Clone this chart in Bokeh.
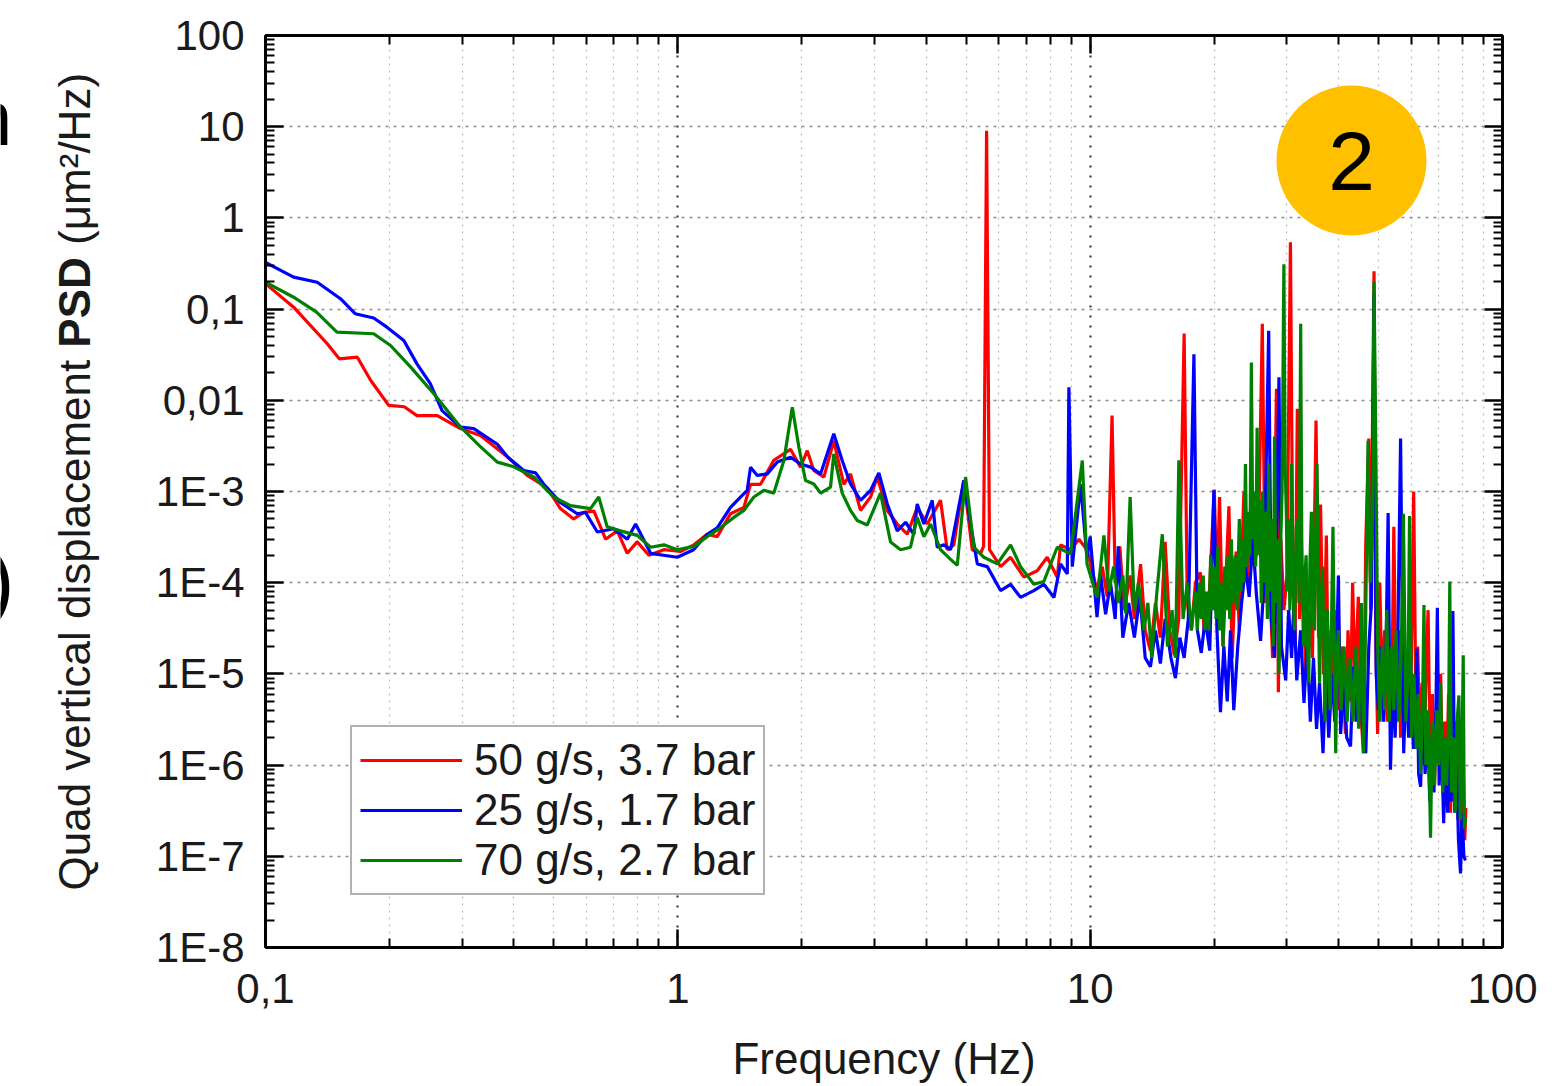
import math
from bokeh.plotting import figure
from bokeh.layouts import row
from bokeh.models import FixedTicker, CustomJSTickFormatter, LogAxis, Label
from bokeh.core.properties import value
from bokeh.embed import file_html
from bokeh.resources import INLINE

# ---------------- data ----------------
x_tick_values = [0.1, 1, 10, 100]
x_tick_labels = ["0,1", "1", "10", "100"]
y_tick_values = [1e-8, 1e-7, 1e-6, 1e-5, 1e-4, 1e-3, 1e-2, 1e-1, 1, 10, 100]
y_tick_labels = ["1E-8", "1E-7", "1E-6", "1E-5", "1E-4", "1E-3", "0,01", "0,1", "1", "10", "100"]

series_names = ["50 g/s, 3.7 bar", "25 g/s, 1.7 bar", "70 g/s, 2.7 bar"]
series_colors = ["#ff0000", "#0000ff", "#008000"]

red = [
    (0.100, 0.19), (0.117, 0.105), (0.141, 0.042), (0.151, 0.0285), (0.167, 0.0297), (0.180, 0.0165),
    (0.199, 0.0088), (0.217, 0.0085), (0.233, 0.0068), (0.261, 0.0068), (0.297, 0.0049), (0.332, 0.0041),
    (0.386, 0.0024), (0.431, 0.0015), (0.482, 0.0011), (0.519, 0.00065), (0.559, 0.0005), (0.592, 0.00059),
    (0.626, 0.00061), (0.668, 0.0003), (0.713, 0.00037), (0.754, 0.00021), (0.797, 0.00028), (0.851, 0.0002),
    (0.925, 0.00023), (1.015, 0.00022), (1.094, 0.00026),
    (1.178, 0.00034), (1.246, 0.00032), (1.342, 0.00057), (1.446, 0.00067), (1.501, 0.0012), (1.587, 0.0012),
    (1.709, 0.0022), (1.876, 0.0029), (1.984, 0.00185), (2.06, 0.0028), (2.137, 0.0017), (2.261, 0.00144),
    (2.389, 0.0036), (2.527, 0.0012), (2.623, 0.00156), (2.774, 0.00062), (2.934, 0.00087), (3.045, 0.00144),
    (3.221, 0.00062), (3.405, 0.00044), (3.601, 0.00034), (3.807, 0.00067), (4.027, 0.00044), (4.336, 0.0008),
    (4.501, 0.00023), (4.671, 0.00026), (4.938, 0.00132), (5.176, 0.00023), (5.424, 0.00021), (5.515, 0.00025),
    (5.608, 9.0), (5.70, 0.00023), (6.063, 0.00015), (6.411, 0.00019), (6.907, 0.000115), (7.441, 0.000135),
    (7.868, 0.00019), (8.32, 0.000115), (8.476, 0.00026), (8.963, 0.00023), (9.39, 0.0003), (9.824, 0.00023),
    (10.39, 0.000082),
    (10.7, 1.5e-4), (11.0, 7e-5), (11.3, 6.8e-3), (11.5, 1.0e-4), (11.8, 2.5e-4), (12.1, 5e-5), (12.5, 1.2e-4),
    (12.8, 4e-5), (13.25, 1.6e-4), (13.6, 3e-5), (14.0, 1.8e-5), (14.4, 6e-5), (14.8, 2.5e-5), (15.2, 2.8e-4),
    (15.6, 3e-5), (16.0, 1.6e-5), (16.4, 4e-5), (16.9, 0.054), (17.2, 6e-5), (17.6, 3e-5), (18.0, 1e-4),
    (18.5, 1.3e-4), (18.9, 3e-5), (19.4, 6e-5), (20.0, 1.05e-3), (20.3, 8e-5), (20.6, 8.7e-4), (21.0, 2e-5),
    (21.4, 1.5e-4), (21.7, 6.9e-4), (22.1, 1.5e-5), (22.6, 2.2e-4), (23.0, 3e-5), (23.6, 1e-3), (24.0, 1e-4),
    (24.6, 5e-4), (25.0, 1.5e-4), (25.6, 3e-4), (26.15, 0.069), (26.6, 6e-5), (27.1, 2e-4), (27.7, 1.5e-5),
    (28.3, 0.0134), (28.6, 6.3e-6), (29.0, 3e-4), (29.5, 5e-5), (30.0, 1.2e-4), (30.6, 0.54), (31.0, 1.5e-4),
    (31.4, 2e-5), (31.8, 8.1e-3), (32.2, 4e-5), (32.8, 1.5e-4), (33.3, 1e-5), (34.0, 6e-5), (34.6, 1.5e-5),
    (35.3, 6e-3), (35.8, 2.5e-5), (36.2, 7.2e-4), (36.8, 1e-5), (37.4, 3.3e-4), (37.9, 2.3e-6), (38.4, 3e-5),
    (39.0, 8e-6), (39.6, 5e-5), (40.2, 4e-6), (40.8, 2e-5), (41.6, 2.2e-6), (42.2, 3e-5), (42.8, 5e-6),
    (43.3, 1.0e-4), (43.9, 8e-6), (44.7, 7e-5), (45.3, 4e-6), (46.0, 1.35e-6), (46.6, 2.8e-4), (47.4, 3.8e-3),
    (47.9, 5e-5), (48.8, 0.26), (49.3, 2e-5), (49.8, 2.2e-6), (50.4, 1e-4), (51.0, 8e-6), (51.8, 3e-5),
    (52.5, 3e-6), (53.2, 1.5e-5), (53.8, 2.5e-6), (54.5, 4.1e-4), (55.2, 5e-6), (55.9, 3e-5), (56.6, 2e-6),
    (57.5, 2e-5), (58.3, 3e-6), (59.0, 1.2e-5), (59.8, 2.5e-6), (60.9, 1.0e-3), (61.6, 6e-6), (62.3, 2e-5),
    (63.0, 1.5e-6), (63.8, 8e-6), (64.5, 1e-6), (65.3, 1.2e-5), (66.0, 5e-5), (66.8, 1e-6), (67.6, 6e-6),
    (68.4, 6e-7), (69.2, 4e-6), (70.0, 1.2e-6), (70.8, 1e-5), (71.6, 5e-7), (72.4, 3e-6), (73.2, 8e-7),
    (74.0, 6e-6), (74.8, 3e-7), (75.6, 2e-6), (76.4, 4e-7), (77.2, 3e-6), (78.0, 2.5e-7), (78.8, 1.5e-6),
    (79.6, 1.5e-7), (80.4, 8e-7), (81.0, 1.5e-7), (81.5, 3.4e-7),
]

blue = [
    (0.100, 0.324), (0.117, 0.224), (0.1335, 0.197), (0.152, 0.13), (0.165, 0.089), (0.183, 0.08),
    (0.197, 0.0634), (0.2165, 0.0453), (0.233, 0.0251), (0.251, 0.0152), (0.268, 0.0077), (0.297, 0.0051),
    (0.320, 0.0049), (0.365, 0.0033), (0.386, 0.0024), (0.423, 0.0017), (0.452, 0.0016), (0.473, 0.0012),
    (0.519, 0.00076), (0.570, 0.00057), (0.597, 0.00059), (0.638, 0.00036), (0.699, 0.00039), (0.754, 0.0003),
    (0.790, 0.00044), (0.859, 0.00021), (0.997, 0.00019), (1.092, 0.00023),
    (1.178, 0.00034), (1.246, 0.0004), (1.342, 0.00067), (1.419, 0.00087), (1.473, 0.00103), (1.501, 0.00185),
    (1.558, 0.0015), (1.648, 0.00156), (1.742, 0.0021), (1.876, 0.00238), (1.984, 0.002), (2.099, 0.00185),
    (2.219, 0.00156), (2.389, 0.0043), (2.504, 0.00219), (2.623, 0.00121), (2.774, 0.0008), (2.934, 0.00103),
    (3.073, 0.0016), (3.221, 0.00073), (3.405, 0.00037), (3.567, 0.00046), (3.737, 0.00034), (3.807, 0.00073),
    (3.951, 0.00044), (4.14, 0.0008), (4.257, 0.000245), (4.418, 0.00026), (4.586, 0.00023), (4.938, 0.00132),
    (5.128, 0.00044), (5.324, 0.000161), (5.63, 0.00015), (6.063, 0.000082), (6.411, 0.000096), (6.78, 0.000069),
    (7.30, 0.000082), (7.72, 0.000096), (8.17, 0.000069), (8.476, 0.000161), (8.80, 0.000125), (8.88, 0.0139),
    (9.05, 0.00015), (9.48, 0.0012), (9.82, 0.00019), (10.0, 0.00032), (10.39, 0.000042),
    (10.6, 1.2e-4), (10.9, 4.5e-5), (11.2, 1e-4), (11.5, 4e-5), (11.7, 2.5e-4), (12.0, 2.5e-5), (12.4, 6e-5),
    (12.8, 2.5e-5), (13.2, 7e-5), (13.6, 1.5e-5), (14.0, 1.2e-5), (14.4, 3e-5), (14.8, 1.3e-5), (15.2, 4e-5),
    (15.7, 1.5e-5), (16.1, 9e-6), (16.5, 2.5e-5), (16.9, 1.5e-5), (17.3, 4e-5), (17.85, 0.032), (18.2, 3e-5),
    (18.6, 1.7e-5), (19.0, 4e-5), (19.5, 1.8e-5), (19.95, 1.03e-3), (20.3, 3e-5), (20.7, 3.8e-6), (21.1, 2e-5),
    (21.5, 5e-6), (21.9, 3e-5), (22.3, 4e-6), (22.8, 2e-5), (23.3, 6e-5), (23.8, 1.5e-4), (24.3, 7e-5),
    (24.8, 3e-4), (25.3, 7.5e-5), (25.9, 2.3e-5), (26.4, 1e-4), (27.1, 0.058), (27.5, 4e-5), (28.0, 1.5e-5),
    (28.7, 0.0179), (29.1, 2e-5), (29.8, 8.5e-6), (30.3, 5e-5), (30.8, 1.5e-5), (31.2, 6e-5), (31.7, 8.5e-6),
    (32.4, 3e-5), (33.0, 4.8e-6), (33.6, 2e-5), (34.2, 3e-6), (34.8, 1.5e-5), (35.4, 2.5e-6), (36.0, 8e-6),
    (36.7, 1.35e-6), (37.3, 1e-5), (37.9, 2e-6), (38.6, 1e-5), (39.2, 3e-6), (40.0, 1.2e-4), (40.5, 2.2e-6),
    (41.2, 8e-6), (41.9, 2e-6), (42.8, 1.6e-6), (43.5, 1.2e-5), (44.2, 3e-6), (45.0, 1e-5), (45.8, 2.5e-6),
    (46.6, 1.35e-6), (47.4, 2e-5), (48.1, 6e-5), (48.8, 0.15), (49.4, 1e-5), (50.0, 4e-6), (50.7, 2e-5),
    (51.4, 3e-6), (52.1, 1.2e-5), (52.8, 5.8e-4), (53.5, 8.9e-7), (54.2, 1e-5), (54.9, 2e-6), (55.7, 1.8e-5),
    (56.6, 3.8e-3), (57.6, 1.35e-6), (58.4, 1e-5), (59.2, 2e-6), (60.0, 8e-6), (60.8, 1.5e-6), (61.5, 6e-6),
    (62.0, 1.9e-5), (62.6, 8e-7), (63.3, 5.8e-7), (64.1, 5e-6), (64.9, 8e-7), (65.8, 3e-6), (66.6, 4e-7),
    (67.4, 2e-6), (68.2, 5e-7), (69.0, 5e-6), (69.5, 5.3e-5), (70.2, 6e-7), (71.0, 2.5e-6), (72.0, 2.3e-7),
    (72.8, 1.5e-6), (73.6, 3e-7), (74.4, 2e-6), (75.1, 4e-7), (75.8, 4.9e-5), (76.6, 3e-7), (77.4, 1e-6),
    (78.2, 1.5e-7), (79.1, 6.5e-8), (79.8, 3e-7), (80.6, 1e-7), (81.3, 9e-8),
]

green = [
    (0.100, 0.197), (0.117, 0.135), (0.133, 0.0925), (0.149, 0.0558), (0.183, 0.0537), (0.201, 0.0399),
    (0.225, 0.0231), (0.256, 0.0118), (0.297, 0.0051), (0.332, 0.0031), (0.365, 0.0021), (0.400, 0.00187),
    (0.448, 0.00144), (0.500, 0.00087), (0.549, 0.0007), (0.614, 0.00065), (0.643, 0.00087), (0.674, 0.00041),
    (0.726, 0.00037), (0.797, 0.00033), (0.859, 0.000245), (0.925, 0.00026), (0.997, 0.00023), (1.094, 0.00025),
    (1.178, 0.00032), (1.269, 0.0004), (1.367, 0.00052), (1.446, 0.00062), (1.529, 0.00087), (1.617, 0.00103),
    (1.709, 0.00096), (1.808, 0.00219), (1.895, 0.0084), (1.966, 0.00306), (2.04, 0.00132), (2.137, 0.00121),
    (2.219, 0.00096), (2.346, 0.00112), (2.389, 0.00259), (2.504, 0.00096), (2.623, 0.00062), (2.724, 0.00048),
    (2.88, 0.00043), (3.101, 0.00096), (3.28, 0.00028), (3.47, 0.00023), (3.667, 0.000245), (3.807, 0.00052),
    (3.951, 0.00032), (4.102, 0.00044), (4.336, 0.00023), (4.586, 0.00018), (4.761, 0.000155), (4.987, 0.00144),
    (5.224, 0.000245), (5.524, 0.00019), (5.953, 0.000161), (6.411, 0.00026), (6.78, 0.00015), (7.30, 0.000096),
    (7.72, 0.000103), (8.32, 0.000245), (8.963, 0.000207), (9.57, 0.00219), (9.824, 0.000161), (10.39, 0.000069),
    (10.6, 1.5e-4), (10.8, 3.3e-4), (11.1, 8e-5), (11.4, 1.5e-4), (11.7, 6e-5), (12.0, 1.2e-4), (12.2, 4.6e-5),
    (12.5, 8.7e-4), (12.8, 5e-5), (13.1, 1e-4), (13.5, 3e-5), (13.8, 6e-5), (14.1, 1.5e-5), (14.5, 7.5e-5),
    (14.96, 3.4e-4), (15.4, 2e-5), (15.8, 5e-5), (16.1, 1.5e-5), (16.41, 2.2e-3), (16.8, 4e-5), (17.2, 1e-4),
    (17.6, 3e-5),
    (18.0, 8e-5), (18.2, 3e-5), (18.4, 1e-4), (18.6, 4e-5), (18.8, 1.2e-4), (19.0, 3e-5), (19.2, 8e-5),
    (19.4, 3e-5), (19.6, 2e-4), (19.8, 5e-5), (20.0, 1.5e-4), (20.2, 4e-5), (20.4, 2.5e-4), (20.6, 3e-5),
    (20.8, 1e-4), (21.0, 2e-5), (21.2, 1.5e-4), (21.4, 5e-5), (21.6, 2e-4), (21.8, 4e-5), (22.0, 3e-4),
    (22.2, 6e-5), (22.5, 2e-4), (22.7, 5e-5), (23.0, 5e-4), (23.2, 8e-5), (23.4, 3e-4), (23.6, 1e-4),
    (23.8, 2e-3), (24.0, 1.5e-4), (24.2, 6e-4), (24.4, 2e-4), (24.6, 0.026), (24.8, 3e-4), (25.0, 1e-3),
    (25.2, 1.5e-4), (25.4, 5e-3), (25.6, 2e-4), (25.8, 8e-4), (26.0, 6e-5), (26.2, 1e-3), (26.4, 1e-4),
    (26.7, 6e-4), (26.9, 4e-5), (27.1, 2e-3), (27.3, 8e-5), (27.6, 5e-4), (27.8, 2e-5), (28.0, 4e-3),
    (28.2, 6e-5), (28.5, 3e-4), (28.7, 1e-5), (29.0, 3e-4), (29.2, 1e-3), (29.5, 0.31), (29.7, 2e-3),
    (29.9, 6e-4), (30.1, 8e-5), (30.3, 5e-4), (30.5, 5e-5), (30.8, 2e-3), (31.0, 1e-4), (31.3, 3e-5),
    (31.6, 4e-4), (31.9, 5e-4), (32.1, 6e-5), (32.4, 0.069), (32.6, 3e-4), (32.9, 2e-5), (33.1, 1e-4),
    (33.4, 2e-4), (33.6, 3e-5), (33.9, 8e-6), (34.1, 1.5e-4), (34.4, 6e-4), (34.7, 4e-5), (35.0, 3e-5),
    (35.2, 3e-4), (35.5, 2e-3), (35.8, 5e-5), (36.0, 8e-6), (36.3, 6e-5), (36.6, 1.5e-4), (36.9, 2e-5),
    (37.1, 3e-6), (37.4, 3e-5), (37.6, 5e-5), (37.9, 1e-5), (38.2, 4e-6), (38.5, 4e-5), (38.8, 4.1e-4),
    (39.1, 2e-5), (39.4, 1.35e-6), (39.7, 1.5e-5), (40.0, 3e-5),
    (40.6, 4e-6), (41.3, 2e-5), (42.0, 3e-6), (42.7, 1.5e-5), (43.4, 3e-6), (44.1, 2e-5), (44.8, 2.5e-6),
    (45.5, 6e-5), (46.0, 1.35e-6), (46.6, 5e-5), (47.2, 3.6e-3), (47.8, 1e-4), (48.4, 5e-4), (48.8, 0.2),
    (49.3, 2.9e-3), (49.8, 2e-5), (50.4, 3e-6), (51.1, 2e-5), (51.8, 4e-6), (52.4, 5e-5), (53.1, 3e-6),
    (53.8, 2e-5), (54.5, 4e-6), (55.2, 3e-5), (56.0, 3e-6), (56.8, 1.5e-5), (57.5, 5.7e-4), (58.3, 3e-6),
    (59.0, 1e-5), (59.5, 5.4e-4), (60.2, 2e-6), (61.0, 1e-5), (61.8, 1.5e-6), (62.5, 6e-6), (63.3, 8e-7),
    (64.0, 5e-6), (64.5, 5.7e-5), (65.2, 1e-6), (66.0, 4e-6), (66.9, 1.6e-7), (67.6, 3e-6), (68.4, 6e-7),
    (69.2, 4e-6), (70.0, 1e-6), (70.8, 8e-6), (71.6, 5e-7), (72.4, 2e-6), (73.2, 6e-7), (74.0, 3e-6),
    (74.5, 1.03e-4), (75.2, 5e-7), (76.0, 2e-6), (76.8, 3e-7), (77.6, 3e-6), (78.4, 5.8e-6), (79.0, 2.5e-7),
    (79.7, 1e-6), (80.3, 1.6e-5), (80.8, 2e-7), (81.4, 2.7e-7),
]

y_title_parts = ["Quad vertical displacement", "PSD", "(μm²/Hz)"]
y_title_styles = ["normal", "bold", "normal"]

# ---------------- layout constants ----------------
FONT = "Liberation Sans"
PAGE_H = 1086
TITLE_W = 130                 # width of the strip holding the y title
FRAME_W, FRAME_H = 1237, 912
FRAME_LEFT, FRAME_TOP = 265, 35
FRAME_BOTTOM = FRAME_TOP + FRAME_H
BORDER_BOTTOM = PAGE_H - FRAME_BOTTOM

p = figure(x_axis_type="log", y_axis_type="log", x_range=(0.1, 100), y_range=(1e-8, 100),
           frame_width=FRAME_W, frame_height=FRAME_H,
           min_border_left=FRAME_LEFT - TITLE_W, min_border_right=45,
           min_border_top=FRAME_TOP, min_border_bottom=BORDER_BOTTOM,
           output_backend="svg", toolbar_location=None,
           background_fill_color="white", border_fill_color="white")
p.outline_line_color = "black"
p.outline_line_width = 2


def minor_of(vals):
    out = []
    for v in vals[:-1]:
        out += [v * k for k in range(2, 10)]
    return out


def formatter(vals, labels):
    return CustomJSTickFormatter(args=dict(vals=vals, labels=labels), code="""
        for (let i = 0; i < vals.length; i++) {
            if (Math.abs(Math.log10(vals[i]) - Math.log10(tick)) < 1e-6) return labels[i];
        }
        return "";
    """)


x_ticker = FixedTicker(ticks=x_tick_values, minor_ticks=minor_of(x_tick_values))
y_ticker = FixedTicker(ticks=y_tick_values, minor_ticks=minor_of(y_tick_values))


def style(ax, ticker, labels_on):
    ax.ticker = ticker
    ax.axis_line_color = "black"
    ax.axis_line_width = 3
    ax.major_tick_in = 18
    ax.major_tick_out = 0
    ax.minor_tick_in = 9
    ax.minor_tick_out = 0
    ax.major_tick_line_color = "black"
    ax.minor_tick_line_color = "black"
    ax.major_tick_line_width = 2.5
    ax.minor_tick_line_width = 2
    if not labels_on:
        ax.formatter = CustomJSTickFormatter(code="return '';")
        ax.major_label_text_font_size = "0px"
        ax.major_label_standoff = 0


xb = p.below[0]
yl = p.left[0]
style(xb, x_ticker, True)
style(yl, y_ticker, True)
xb.formatter = formatter(x_tick_values, x_tick_labels)
yl.formatter = formatter(y_tick_values, y_tick_labels)
for ax in (xb, yl):
    ax.major_label_text_font = FONT
    ax.major_label_text_font_size = "42px"
    ax.major_label_text_color = "#1a1a1a"
xb.major_label_standoff = 26
yl.major_label_standoff = 21

xb.axis_label = "Frequency (Hz)"
xb.axis_label_text_font = FONT
xb.axis_label_text_font_size = "44px"
xb.axis_label_text_font_style = "normal"
xb.axis_label_text_color = "#1a1a1a"
xb.axis_label_standoff = 28

xt = LogAxis()
style(xt, x_ticker, False)
p.add_layout(xt, "above")
yr = LogAxis()
style(yr, y_ticker, False)
p.add_layout(yr, "right")

# grids
p.xgrid.ticker = x_ticker
p.ygrid.ticker = y_ticker
p.xgrid.grid_line_color = "#3a3a3a"
p.xgrid.grid_line_dash = "2 8"
p.xgrid.grid_line_width = 2.2
p.xgrid.minor_grid_line_color = "#bdbdbd"
p.xgrid.minor_grid_line_dash = "2 5"
p.xgrid.minor_grid_line_width = 1.2
p.ygrid.grid_line_color = "#8f8f8f"
p.ygrid.grid_line_dash = "3 5"
p.ygrid.grid_line_width = 1.6
p.ygrid.minor_grid_line_color = None

# series
for data, name, col in zip([red, blue, green], series_names, series_colors):
    f, v = zip(*data)
    p.line(list(f), list(v), line_color=col, line_width=3.2, legend_label=name)

leg = p.legend[0]
leg.location = (85, 52)
leg.margin = 0
leg.padding = 8
leg.spacing = 0
leg.glyph_width = 102
leg.glyph_height = 50
leg.label_height = 50
leg.label_standoff = 12
leg.label_text_font = FONT
leg.label_text_font_size = "44px"
leg.label_text_color = "#1a1a1a"
leg.border_line_color = "#666666"
leg.border_line_width = 2.5
leg.background_fill_color = "white"
leg.background_fill_alpha = 1.0

# yellow "2" badge (top right)
badge_sx, badge_sy = 1086, 787
bx = 10 ** (math.log10(0.1) + badge_sx / FRAME_W * 3)
by = 10 ** (math.log10(1e-8) + badge_sy / FRAME_H * 10)
p.scatter([bx], [by], marker="circle", size=150, fill_color="#ffc000", line_color=None)
p.add_layout(Label(x=badge_sx, y=badge_sy, x_units="screen", y_units="screen", text="2",
                   text_align="center", text_baseline="middle", text_font=FONT,
                   text_font_size="84px", text_color="black"))

# ---------------- strip on the left for the rotated y title ----------------
# its frame is vertically aligned with the main frame; data units = page pixels (y up)
t = figure(width=TITLE_W, height=PAGE_H,
           x_range=(0, TITLE_W), y_range=(PAGE_H - FRAME_BOTTOM, PAGE_H - FRAME_TOP),
           x_axis_location=None, y_axis_location=None,
           min_border_left=0, min_border_right=0,
           min_border_top=FRAME_TOP, min_border_bottom=BORDER_BOTTOM,
           output_backend="svg", toolbar_location=None,
           background_fill_color="white", border_fill_color="white")
t.outline_line_color = None
t.grid.visible = False

YFS = 44
em = [12.06, 2.056, 3.908]     # text widths in em (Arial metrics)
space = 0.278
baseline_x = 74                # rotated baseline position
start = PAGE_H - 890           # bottom end of the title
ys = [start, start + (em[0] + space) * YFS, start + (em[0] + em[1] + 2 * space) * YFS]
for txt, sty, yy in zip(y_title_parts, y_title_styles, ys):
    t.text(x=[baseline_x], y=[yy], text=[txt], angle=math.pi / 2, text_align="left",
           text_baseline="alphabetic", text_font=value(FONT), text_font_size="44px",
           text_font_style=sty, text_color="#1a1a1a")

# clipped fragments of neighbouring slide text at the far left edge
t.text(x=[12], y=[PAGE_H - 117], text=["n"], text_align="right", text_baseline="alphabetic",
       text_font=value(FONT), text_font_size="78px", text_color="black")
t.text(x=[14], y=[PAGE_H - 580], text=[")"], text_align="right", text_baseline="alphabetic",
       text_font=value(FONT), text_font_size="84px", text_color="black")

open("out.html", "w").write(file_html(row(t, p), INLINE))
